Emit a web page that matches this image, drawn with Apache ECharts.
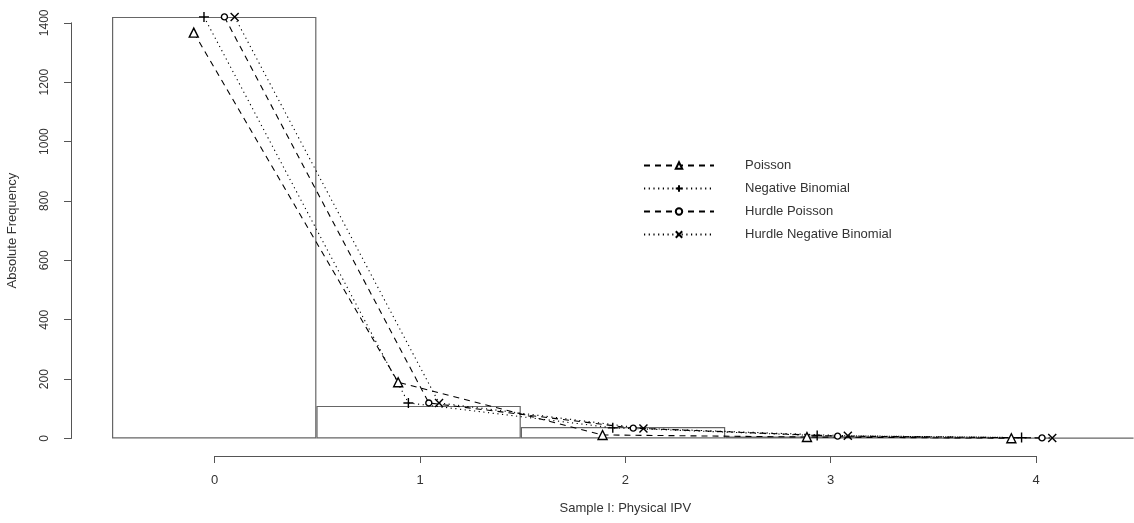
<!DOCTYPE html>
<html>
<head>
<meta charset="utf-8">
<script src="https://cdn.jsdelivr.net/npm/echarts@6/dist/echarts.min.js"></script>
<style>
  html, body { margin: 0; padding: 0; background: #fff; }
  #chart { width: 1134px; height: 523px; }
</style>
</head>
<body>
<div id="chart"></div>
<script>
// counts 0..4 (observed histogram)
const counts = [0, 1, 2, 3, 4]
const observed = [1423, 110, 39, 7, 3]

// fitted frequencies for each model
const poisson = [1370, 190, 12, 5, 1]
const negBinomial = [1423, 120, 36, 10, 3]
const hurdlePoisson = [1423, 120, 35, 8, 2]
const hurdleNegBinomial = [1423, 120, 34, 9, 2]

const yTicks = [0, 1400, 200]   // min, max, step
const xTicks = [0, 4, 1]

const ink = '#000'
const axisGrey = '#555'
const textGrey = '#333'

// small horizontal shift so the four models don't sit on top of each other
function shifted(vals, dx) {
    return vals.map((v, i) => [counts[i] + dx, v])
}

const plusPath = 'path://M5,0L5,10M0,5L10,5'
const crossPath = 'path://M0,0L10,10M10,0L0,10'

function model(name, vals, dx, dash, symbol, size) {
    return {
        name: name,
        type: 'line',
        xAxisIndex: 1,
        yAxisIndex: 0,
        data: shifted(vals, dx),
        clip: false,
        symbol: symbol,
        symbolSize: size,
        showSymbol: true,
        lineStyle: { color: ink, width: 1.1, type: dash },
        itemStyle: { color: '#fff', borderColor: ink, borderWidth: 1.4 },
        z: 5
    }
}

const chart = echarts.init(document.getElementById('chart'))
chart.setOption({
    animation: false,
    textStyle: { fontFamily: 'Liberation Sans, Arial, sans-serif' },
    legend: {
        orient: 'vertical',
        left: 638,
        top: 154,
        itemWidth: 70,
        itemHeight: 8,
        itemGap: 10,
        textStyle: { color: textGrey, fontSize: 13, padding: [0, 0, 0, 26] },
        data: ['Poisson', 'Negative Binomial', 'Hurdle Poisson', 'Hurdle Negative Binomial']
    },
    grid: [
        // plot area: -0.5 .. 4.5 wide, 0 .. 1480 tall
        { left: 112, right: -5, top: -1, bottom: 84.5 },
        // left axis only
        { left: 71, width: 10, top: 22.8, bottom: 84.5 },
        // bottom axis only, spanning 0..4
        { left: 214.7, right: 98, top: 300, bottom: 67 }
    ],
    xAxis: [
        { type: 'category', gridIndex: 0, data: counts, show: false },
        { type: 'value', gridIndex: 0, min: -0.5, max: 4.5, show: false },
        { type: 'value', gridIndex: 1, show: false },
        {
            type: 'value', gridIndex: 2, min: xTicks[0], max: xTicks[1], interval: xTicks[2],
            position: 'bottom',
            name: 'Sample I: Physical IPV',
            nameLocation: 'middle',
            nameGap: 46,
            nameTextStyle: { color: textGrey, fontSize: 13 },
            axisLine: { lineStyle: { color: axisGrey, width: 1 } },
            axisTick: { length: 7, lineStyle: { color: axisGrey } },
            axisLabel: { color: textGrey, fontSize: 13, margin: 18 },
            splitLine: { show: false }
        }
    ],
    yAxis: [
        { type: 'value', gridIndex: 0, min: 0, max: 1480, show: false },
        {
            type: 'value', gridIndex: 1, min: yTicks[0], max: yTicks[1], interval: yTicks[2],
            position: 'left',
            name: 'Absolute Frequency',
            nameLocation: 'middle',
            nameGap: 52,
            nameRotate: 90,
            nameTextStyle: { color: textGrey, fontSize: 13 },
            axisLine: { show: true, lineStyle: { color: axisGrey, width: 1 } },
            axisTick: { show: true, length: 7, lineStyle: { color: axisGrey } },
            axisLabel: { color: textGrey, fontSize: 12, rotate: 90, margin: 20, formatter: v => String(v) },
            splitLine: { show: false }
        },
        { type: 'value', gridIndex: 2, show: false }
    ],
    series: [
        {
            name: 'observed',
            type: 'bar',
            xAxisIndex: 0,
            yAxisIndex: 0,
            data: observed,
            barWidth: '100%',
            clip: false,
            itemStyle: { color: 'rgba(255,255,255,0)', borderColor: '#666', borderWidth: 1.2 },
            z: 2
        },
        model('Poisson', poisson, -0.1, [6, 5], 'triangle', 9),
        model('Negative Binomial', negBinomial, -0.05, [1.2, 3.5], plusPath, 10),
        model('Hurdle Poisson', hurdlePoisson, 0.05, [6, 5], 'circle', 6),
        model('Hurdle Negative Binomial', hurdleNegBinomial, 0.1, [1.2, 3.5], crossPath, 8)
    ]
})
</script>
</body>
</html>
